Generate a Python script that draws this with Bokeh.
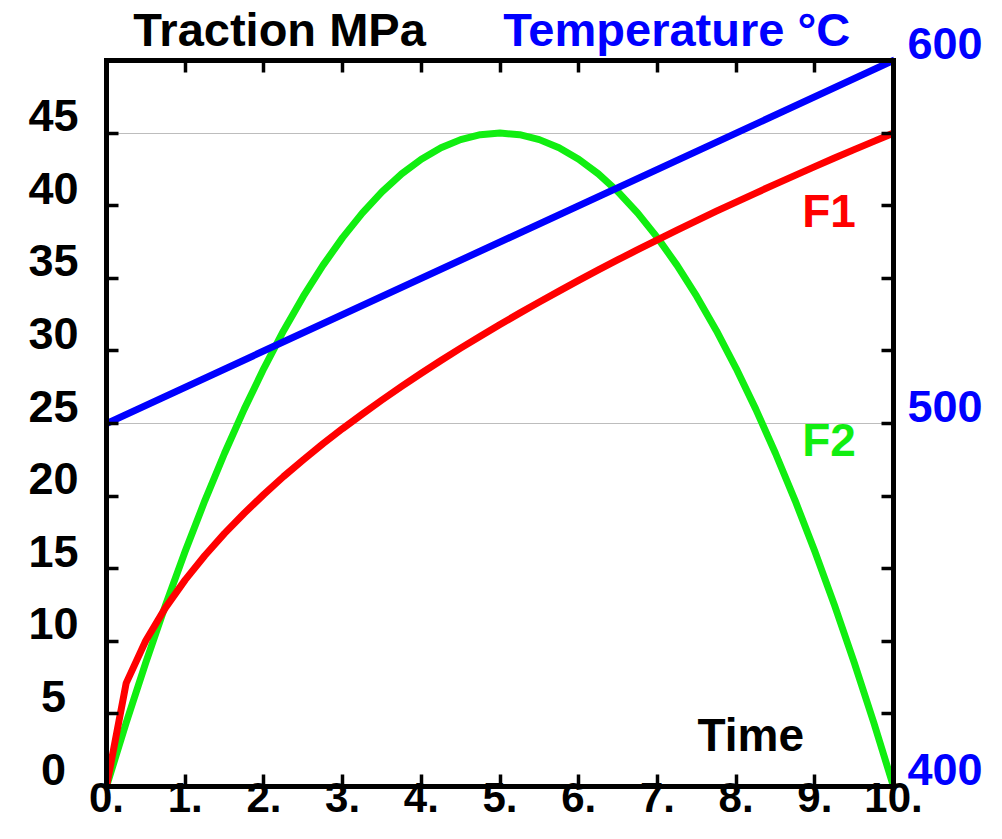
from bokeh.plotting import figure
from bokeh.models import Range1d, LinearAxis, FixedTicker, Label, Grid
from bokeh.embed import file_html
from bokeh.resources import INLINE

# ---- data ----
time = [0, 0.25, 0.5, 0.75, 1, 1.25, 1.5, 1.75, 2, 2.25, 2.5, 2.75, 3, 3.25, 3.5, 3.75,
        4, 4.25, 4.5, 4.75, 5, 5.25, 5.5, 5.75, 6, 6.25, 6.5, 6.75, 7, 7.25, 7.5, 7.75,
        8, 8.25, 8.5, 8.75, 9, 9.25, 9.5, 9.75, 10]
f1 = [0, 7.12, 10.06, 12.32, 14.23, 15.91, 17.43, 18.82, 20.12, 21.35, 22.5, 23.6,
      24.65, 25.65, 26.62, 27.56, 28.46, 29.34, 30.19, 31.01, 31.82, 32.6, 33.37, 34.12,
      34.86, 35.58, 36.28, 36.97, 37.65, 38.32, 38.97, 39.62, 40.25, 40.87, 41.49, 42.09,
      42.69, 43.28, 43.86, 44.43, 45]
f2 = [0, 4.39, 8.55, 12.49, 16.2, 19.69, 22.95, 25.99, 28.8, 31.39, 33.75, 35.89,
      37.8, 39.49, 40.95, 42.19, 43.2, 43.99, 44.55, 44.89, 45, 44.89, 44.55, 43.99,
      43.2, 42.19, 40.95, 39.49, 37.8, 35.89, 33.75, 31.39, 28.8, 25.99, 22.95, 19.69,
      16.2, 12.49, 8.55, 4.39, 0]
temp_time = [0, 10]
temp_c = [500, 600]

x_ticks = [0, 1, 2, 3, 4, 5, 6, 7, 8, 9, 10]
x_tick_labels = ["0.", "1.", "2.", "3.", "4.", "5.", "6.", "7.", "8.", "9.", "10."]
y_ticks = [0, 5, 10, 15, 20, 25, 30, 35, 40, 45]
y_tick_labels = ["0", "5", "10", "15", "20", "25", "30", "35", "40", "45"]
temp_label_values = [400, 500, 600]
temp_tick_labels = ["400", "500", "600"]
grid_values = [25, 45]
title_left = "Traction MPa"
title_right = "Temperature °C"

Y_MAX = 50                 # top edge of the box (traction)
T_MIN, T_MAX = 400, 600    # temperature axis

FONT = "Liberation Sans"
BLUE = "#0000ff"
RED = "#ff0000"
GREEN = "#11ee11"

# ---- layout (pixels) ----
W, H = 994, 831
FRAME_TOP, BOX_TOP, FRAME_BOTTOM = 8, 60, 786
px_per_unit = (FRAME_BOTTOM - BOX_TOP) / Y_MAX
y_end = Y_MAX + (BOX_TOP - FRAME_TOP) / px_per_unit      # room above the box for the headings
t_scale = (T_MAX - T_MIN) / Y_MAX

LIFT = 1.2                 # y tick labels sit on their tick
LIFT_T = LIFT * t_scale
TEXT_LIFT = 17 / px_per_unit   # Label anchor correction

p = figure(width=W, height=H, x_range=Range1d(0, 10), y_range=Range1d(0, y_end),
           output_backend="svg", toolbar_location=None,
           x_axis_location=None, y_axis_location=None,
           min_border_left=106, min_border_right=101,
           min_border_top=FRAME_TOP, min_border_bottom=H - FRAME_BOTTOM)
p.extra_y_ranges = {
    "temp": Range1d(T_MIN, T_MIN + y_end * t_scale),
    "ylab": Range1d(0 - LIFT, y_end - LIFT),
    "templab": Range1d(T_MIN - LIFT_T, T_MIN + y_end * t_scale - LIFT_T),
}
p.outline_line_color = None
p.background_fill_color = "white"
p.border_fill_color = "white"
for g in p.xgrid + p.ygrid:
    g.visible = False

p.add_layout(Grid(dimension=1, ticker=FixedTicker(ticks=grid_values),
                  grid_line_color="#bdbdbd", grid_line_width=1))

LINE = dict(axis_line_width=5, axis_line_color="black", axis_line_cap="square",
            major_tick_in=12, major_tick_out=0, major_tick_line_width=3.5,
            major_tick_line_color="black", minor_tick_in=0, minor_tick_out=0)


def tick_axis(ticks, **kw):
    return LinearAxis(ticker=FixedTicker(ticks=ticks, minor_ticks=[]),
                      major_label_text_font_size="0px", major_label_standoff=0,
                      major_label_overrides={t: "" for t in ticks}, **LINE, **kw)


def label_axis(ticks, labels, color, standoff, **kw):
    return LinearAxis(ticker=FixedTicker(ticks=ticks, minor_ticks=[]),
                      major_label_overrides=dict(zip(ticks, labels)),
                      axis_line_color=None, major_tick_line_color=None,
                      major_tick_in=0, major_tick_out=0, minor_tick_in=0, minor_tick_out=0,
                      minor_tick_line_color=None,
                      major_label_text_font=FONT, major_label_text_font_style="bold",
                      major_label_text_font_size="45px", major_label_text_color=color,
                      major_label_standoff=standoff, **kw)


# bottom axis: ticks + labels
p.add_layout(LinearAxis(ticker=FixedTicker(ticks=x_ticks, minor_ticks=[]),
                        major_label_overrides=dict(zip(x_ticks, x_tick_labels)),
                        major_label_text_font=FONT, major_label_text_font_style="bold",
                        major_label_text_font_size="42px", major_label_text_color="black",
                        major_label_standoff=-4, **LINE), "below")

# top edge of the box, drawn at y = 50 with inward ticks
p.add_layout(tick_axis(x_ticks[1:-1], fixed_location=Y_MAX), "above")

# left: ticks, then labels
p.add_layout(tick_axis(y_ticks[1:], bounds=(0, Y_MAX)), "left")
left_labels = [s if len(s) > 1 else s + "\u2008" for s in y_tick_labels]
p.add_layout(label_axis(y_ticks, left_labels, "black", 28, y_range_name="ylab"), "left")

# right: ticks, then temperature labels
p.add_layout(tick_axis(y_ticks[1:], bounds=(0, Y_MAX)), "right")
p.add_layout(label_axis(temp_label_values, temp_tick_labels, BLUE, 14,
                        y_range_name="templab"), "right")

p.line(time, f2, line_color=GREEN, line_width=7, line_cap="round", line_join="round")
p.line(time, f1, line_color=RED, line_width=7, line_cap="round", line_join="round")
p.line(temp_time, temp_c, y_range_name="temp", line_color=BLUE, line_width=7, line_cap="round")


def add_label(x, y, text, color, size=46):
    p.add_layout(Label(x=x, y=y + TEXT_LIFT * size / 46, text=text, text_color=color,
                       text_font=FONT, text_font_style="bold", text_font_size=f"{size}px",
                       text_align="left", text_baseline="alphabetic"))


add_label(0.34, 50.96, title_left, "black", 47)
add_label(5.04, 50.96, title_right, BLUE, 47)
add_label(8.84, 38.43, "F1", RED)
add_label(8.84, 22.66, "F2", GREEN)
add_label(7.51, 2.4, "Time", "black")

open("out.html", "w").write(file_html(p, INLINE))
